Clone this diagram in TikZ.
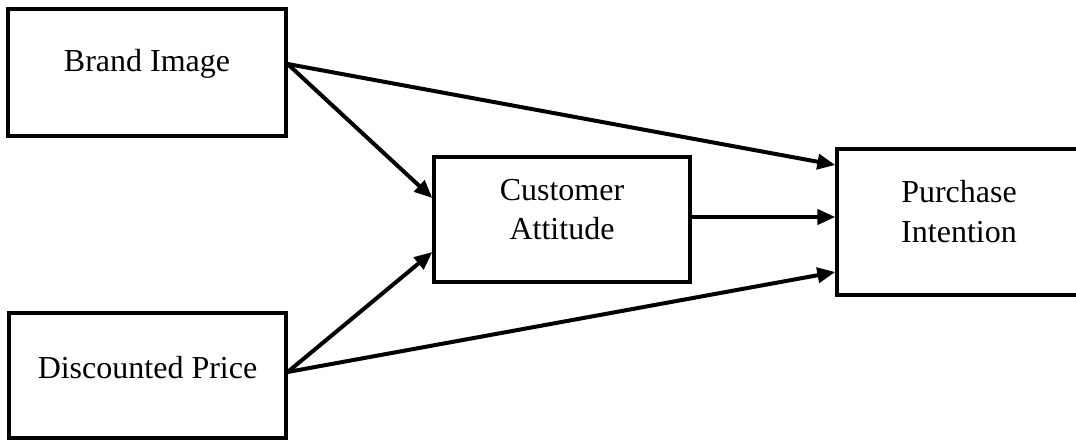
\documentclass[tikz,border=0pt]{standalone}
\usepackage{fontspec}
\setmainfont{Liberation Serif}
\usetikzlibrary{arrows.meta}
\begin{document}
\begin{tikzpicture}[x=1pt,y=-1pt,
  box/.style={draw=black,line width=3.3pt,rectangle,inner sep=0pt,fill=white},
  lbl/.style={anchor=base,inner sep=0pt,font=\fontsize{32}{38}\selectfont},
  conn/.style={line width=4pt,-{Triangle[length=18pt,width=15pt]}}]
\useasboundingbox (0,0) rectangle (1076,441);
\fill[white] (0,0) rectangle (1076,441);
\node[box,minimum width=278pt,minimum height=127pt] (bi) at (147,72.5) {};
\node[box,minimum width=277pt,minimum height=125pt] (dp) at (147.5,375.5) {};
\node[box,minimum width=256pt,minimum height=125pt] (ca) at (562,219.5) {};
\node[box,minimum width=244pt,minimum height=146pt] (pi) at (959,222) {};
\node[lbl] (tbi) at (147,72) {Brand Image};
\node[lbl] (tdp) at (147.5,378) {Discounted Price};
\node[lbl] (tca1) at (562,200) {Customer};
\node[lbl] (tca2) at (562,239) {Attitude};
\node[lbl] (tpi1) at (959,202) {Purchase};
\node[lbl] (tpi2) at (959,242) {Intention};
\coordinate (biout) at (bi.east |- 0,64);
\coordinate (dpout) at (dp.east |- 0,372);
\coordinate (cain1) at (ca.west |- 0,198);
\coordinate (cain2) at (ca.west |- 0,252);
\coordinate (caout) at (ca.east |- 0,217);
\coordinate (piin1) at (pi.west |- 0,165);
\coordinate (piin2) at (pi.west |- 0,217);
\coordinate (piin3) at (pi.west |- 0,272);
\draw[conn] (biout) -- (piin1);
\draw[conn] (biout) -- (cain1);
\draw[conn] (dpout) -- (cain2);
\draw[conn] (caout) -- (piin2);
\draw[conn] (dpout) -- (piin3);
\end{tikzpicture}
\end{document}
